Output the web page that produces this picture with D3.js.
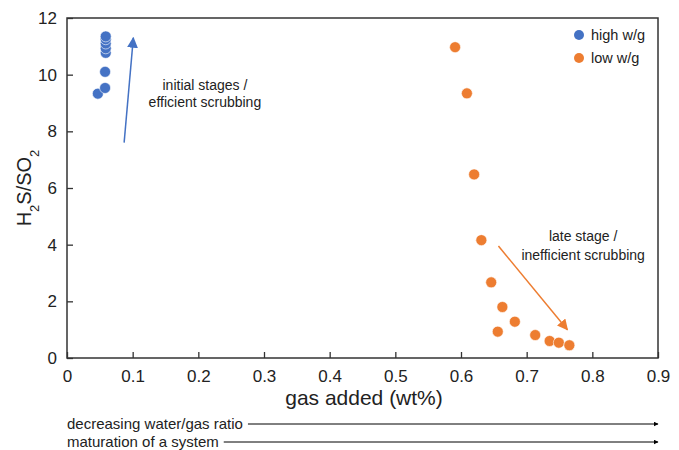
<!DOCTYPE html>
<meta charset="utf-8">
<head>
    <script src="https://d3js.org/d3.v7.min.js"></script>
    <style>
        body { margin: 0; background: #fff; }
        text { font-family: "Liberation Sans", Arial, sans-serif; fill: #222; }
    </style>
</head>
<body>
<div id="my_dataviz"></div>
<script>

    // high water/gas ratio points
    var highX = [0.047, 0.058, 0.058, 0.059, 0.059, 0.059, 0.059, 0.059];
    var highY = [9.33, 9.53, 10.1, 10.77, 10.93, 11.1, 11.25, 11.35];

    // low water/gas ratio points
    var lowX = [0.591, 0.609, 0.620, 0.631, 0.646, 0.663, 0.682, 0.656, 0.713, 0.735, 0.749, 0.765];
    var lowY = [10.97, 9.34, 6.48, 4.16, 2.67, 1.8, 1.28, 0.93, 0.81, 0.6, 0.54, 0.45];

    var xTicks = [0, 0.1, 0.2, 0.3, 0.4, 0.5, 0.6, 0.7, 0.8, 0.9];
    var yTicks = [0, 2, 4, 6, 8, 10, 12];

    var seriesNames = ["high w/g", "low w/g"];
    var seriesColors = ["#4472c4", "#ed7d31"];

    var margin = { top: 18, right: 21, bottom: 92, left: 67 };
    var width = 679 - margin.left - margin.right;
    var height = 450 - margin.top - margin.bottom;

    var svg = d3.select("#my_dataviz").append("svg")
        .attr("width", 679)
        .attr("height", 450)
        .append("g")
        .attr("transform", "translate(" + margin.left + "," + margin.top + ")");

    var x = d3.scaleLinear().domain([0, 0.9]).range([0, width]);
    var y = d3.scaleLinear().domain([0, 12]).range([height, 0]);

    // axes with small inward ticks
    var xAxis = svg.append("g")
        .attr("transform", "translate(0," + height + ")")
        .call(d3.axisBottom(x).tickValues(xTicks).tickSize(-6).tickPadding(12)
            .tickFormat(function (d) { return d === 0 ? "0" : d3.format(".1f")(d); }));
    var yAxis = svg.append("g")
        .call(d3.axisLeft(y).tickValues(yTicks).tickSize(-6).tickPadding(10));

    [xAxis, yAxis].forEach(function (a) {
        a.select(".domain").remove();
        a.selectAll("line").attr("stroke", "#333").attr("stroke-width", 1.3);
        a.selectAll("text").style("font-size", "17px").attr("fill", "#222")
            .style("font-family", "Liberation Sans, Arial, sans-serif");
    });

    // frame
    svg.append("rect")
        .attr("width", width)
        .attr("height", height)
        .attr("fill", "none")
        .attr("stroke", "#333")
        .attr("stroke-width", 1.5);

    // points
    var highData = highX.map(function (v, i) { return [v, highY[i]]; });
    var lowData = lowX.map(function (v, i) { return [v, lowY[i]]; });

    [highData, lowData].forEach(function (data, k) {
        svg.append("g").selectAll("circle")
            .data(data)
            .enter().append("circle")
            .attr("cx", function (d) { return x(d[0]); })
            .attr("cy", function (d) { return y(d[1]); })
            .attr("r", 5.5)
            .attr("fill", seriesColors[k])
            .attr("stroke", "#fff")
            .attr("stroke-width", 0.6);
    });

    // annotation arrows
    var defs = svg.append("defs");
    seriesColors.forEach(function (c, i) {
        defs.append("marker")
            .attr("id", "head" + i)
            .attr("viewBox", "0 0 10 10")
            .attr("refX", 9).attr("refY", 5)
            .attr("markerWidth", 11).attr("markerHeight", 11)
            .attr("markerUnits", "userSpaceOnUse")
            .attr("orient", "auto")
            .append("path").attr("d", "M0,0L10,5L0,10Z").attr("fill", c);
    });
    defs.append("marker")
        .attr("id", "headBlack")
        .attr("viewBox", "0 0 10 10")
        .attr("refX", 9).attr("refY", 5)
        .attr("markerWidth", 5).attr("markerHeight", 5)
        .attr("markerUnits", "userSpaceOnUse")
        .attr("orient", "auto")
        .append("path").attr("d", "M0,0L10,5L0,10Z").attr("fill", "#000");

    var arrows = [
        { x1: 0.087, y1: 7.6, x2: 0.101, y2: 11.3, c: 0 },
        { x1: 0.657, y1: 3.95, x2: 0.762, y2: 1.0, c: 1 }
    ];
    svg.selectAll(".ann")
        .data(arrows)
        .enter().append("line")
        .attr("class", "ann")
        .attr("x1", function (d) { return x(d.x1); })
        .attr("y1", function (d) { return y(d.y1); })
        .attr("x2", function (d) { return x(d.x2); })
        .attr("y2", function (d) { return y(d.y2); })
        .attr("stroke", function (d) { return seriesColors[d.c]; })
        .attr("stroke-width", 1.5)
        .attr("marker-end", function (d) { return "url(#head" + d.c + ")"; });

    var notes = [
        { x: 0.21, y: 9.45, t: "initial stages /" },
        { x: 0.21, y: 8.85, t: "efficient scrubbing" },
        { x: 0.786, y: 4.13, t: "late stage /" },
        { x: 0.786, y: 3.46, t: "inefficient scrubbing" }
    ];
    svg.selectAll(".note")
        .data(notes)
        .enter().append("text")
        .attr("class", "note")
        .attr("x", function (d) { return x(d.x); })
        .attr("y", function (d) { return y(d.y); })
        .attr("text-anchor", "middle")
        .style("font-size", "14px")
        .text(function (d) { return d.t; });

    // legend
    var legend = svg.append("g").attr("transform", "translate(" + (width - 79) + ",17)");
    seriesNames.forEach(function (n, i) {
        legend.append("circle").attr("cx", 0).attr("cy", i * 23).attr("r", 5)
            .attr("fill", seriesColors[i]);
        legend.append("text").attr("x", 12).attr("y", i * 23 + 5)
            .style("font-size", "14.5px").text(n);
    });

    // axis titles
    svg.append("text")
        .attr("x", 297)
        .attr("y", height + 47)
        .attr("text-anchor", "middle")
        .style("font-size", "21px")
        .text("gas added (wt%)");

    var yt = svg.append("text")
        .attr("transform", "translate(-36," + (height / 2) + ") rotate(-90)")
        .attr("text-anchor", "middle")
        .style("font-size", "20px");
    yt.append("tspan").text("H");
    yt.append("tspan").attr("baseline-shift", "sub").style("font-size", "13px").text("2");
    yt.append("tspan").text("S/SO");
    yt.append("tspan").attr("baseline-shift", "sub").style("font-size", "13px").text("2");

    // bottom trend arrows
    var trends = ["decreasing water/gas ratio", "maturation of a system"];
    trends.forEach(function (t, i) {
        var ty = height + 71 + i * 18;
        var tx = svg.append("text")
            .attr("x", 0)
            .attr("y", ty)
            .style("font-size", "15px")
            .text(t);
        var w = tx.node().getComputedTextLength();
        svg.append("line")
            .attr("x1", w + 5)
            .attr("x2", width)
            .attr("y1", ty - 5)
            .attr("y2", ty - 5)
            .attr("stroke", "#000")
            .attr("stroke-width", 1)
            .attr("marker-end", "url(#headBlack)");
    });

</script>
</body>
